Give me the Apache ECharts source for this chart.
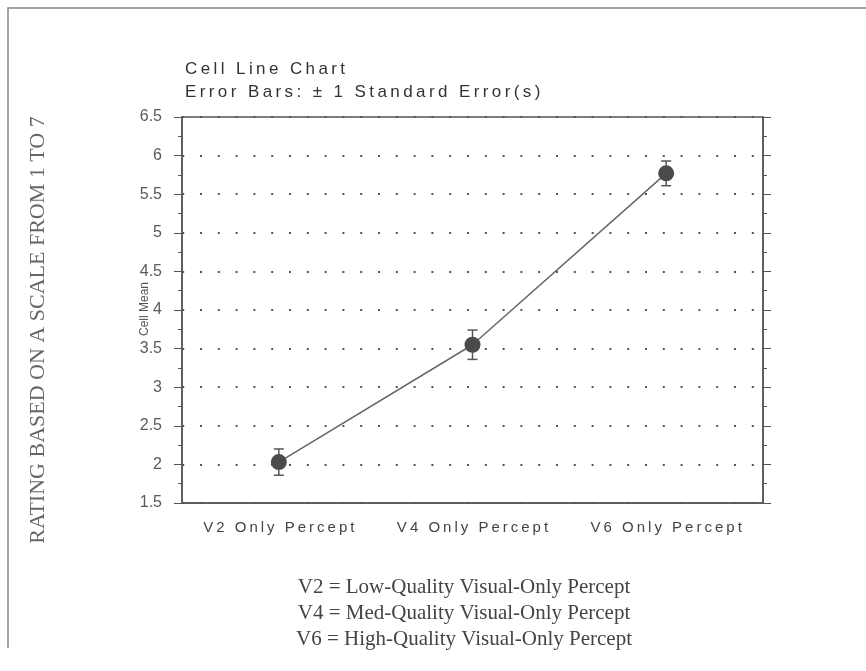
<!DOCTYPE html>
<html>
<head>
<meta charset="utf-8">
<script src="https://cdn.jsdelivr.net/npm/echarts@6/dist/echarts.min.js"></script>
<style>
  html, body { margin: 0; padding: 0; background: #fff; }
  #chart { width: 866px; height: 671px; }
</style>
</head>
<body>
<div id="chart"></div>
<script>
// cell means and standard errors
var categories = ['V2 Only Percept', 'V4 Only Percept', 'V6 Only Percept'];
var cellMeans = [2.03, 3.55, 5.77];
var stdErrors = [0.17, 0.19, 0.16];
var notes = [
  'V2 = Low-Quality Visual-Only Percept',
  'V4 = Med-Quality Visual-Only Percept',
  'V6 = High-Quality Visual-Only Percept'
];

// the original uses wide letter spacing, fake it with thin spaces
function spaced(s) {
  return String(s).split('').join('\u2009');
}

var errData = cellMeans.map(function (m, i) {
  return [i, m - stdErrors[i], m + stdErrors[i]];
});

var chart = echarts.init(document.getElementById('chart'));

var axisGray = '#555';
var sans = 'Arial, "Liberation Sans", sans-serif';
var serif = '"Liberation Serif", "DejaVu Serif", serif';

chart.setOption({
  backgroundColor: '#fff',
  animation: false,
  grid: {
    left: 182, right: 103, top: 117, bottom: 168,
    show: true, borderColor: axisGray, borderWidth: 1.5, backgroundColor: 'transparent'
  },
  xAxis: {
    type: 'category',
    data: categories,
    boundaryGap: true,
    axisLine: { lineStyle: { color: axisGray, width: 1.5 } },
    axisTick: { alignWithLabel: true, length: 4, lineStyle: { color: axisGray } },
    axisLabel: {
      interval: 0, hideOverlap: false,
      margin: 17, color: '#444', fontSize: 15, fontFamily: sans,
      formatter: spaced
    },
    splitLine: { show: false }
  },
  yAxis: [{
    type: 'value',
    min: 1.5, max: 6.5, interval: 0.5,
    axisLine: { show: true, lineStyle: { color: axisGray, width: 1.5 } },
    axisTick: { show: true, length: 8, lineStyle: { color: axisGray } },
    minorTick: { show: true, splitNumber: 2, length: 4, lineStyle: { color: axisGray } },
    axisLabel: { margin: 20, color: '#5a5a5a', fontSize: 16, fontFamily: sans },
    splitLine: { show: true, lineStyle: { color: '#555', width: 2, type: [2, 15.8], dashOffset: -18 } }
  }, {
    type: 'value',
    position: 'right',
    min: 1.5, max: 6.5, interval: 0.5,
    axisLine: { show: true, lineStyle: { color: axisGray, width: 1.5 } },
    axisTick: { show: true, length: 8, lineStyle: { color: axisGray } },
    minorTick: { show: true, splitNumber: 2, length: 4, lineStyle: { color: axisGray } },
    axisLabel: { show: false },
    splitLine: { show: false }
  }],
  graphic: [
    {
      type: 'polyline',
      shape: { points: [[8, 648], [8, 8], [866, 8]] },
      style: { stroke: '#888', lineWidth: 1.5, fill: null }
    },
    {
      type: 'text', x: 185, y: 69,
      style: { text: spaced('Cell Line Chart'), fill: '#333', font: '17px ' + sans, verticalAlign: 'middle' }
    },
    {
      type: 'text', x: 185, y: 92,
      style: { text: spaced('Error Bars: ± 1 Standard Error(s)'), fill: '#333', font: '17px ' + sans, verticalAlign: 'middle' }
    },
    {
      type: 'text', x: 145, y: 309, rotation: Math.PI / 2,
      style: { text: 'Cell Mean', fill: '#555', font: '12px ' + sans, align: 'center', verticalAlign: 'middle' }
    },
    {
      type: 'text', x: 38, y: 330, rotation: Math.PI / 2,
      style: {
        text: 'RATING BASED ON A SCALE FROM 1 TO 7', fill: '#666',
        font: '22px ' + serif, align: 'center', verticalAlign: 'middle'
      }
    },
    {
      type: 'text', x: 464, y: 587,
      style: { text: notes[0], fill: '#444', font: '21px ' + serif, align: 'center', verticalAlign: 'middle' }
    },
    {
      type: 'text', x: 464, y: 613,
      style: { text: notes[1], fill: '#444', font: '21px ' + serif, align: 'center', verticalAlign: 'middle' }
    },
    {
      type: 'text', x: 464, y: 639,
      style: { text: notes[2], fill: '#444', font: '21px ' + serif, align: 'center', verticalAlign: 'middle' }
    }
  ],
  series: [
    {
      type: 'custom',
      data: errData,
      z: 2,
      renderItem: function (params, api) {
        var lo = api.coord([api.value(0), api.value(1)]);
        var hi = api.coord([api.value(0), api.value(2)]);
        var cap = 5;
        var st = { stroke: '#555', lineWidth: 1.5 };
        return {
          type: 'group',
          children: [
            { type: 'line', shape: { x1: lo[0], y1: lo[1], x2: hi[0], y2: hi[1] }, style: st },
            { type: 'line', shape: { x1: lo[0] - cap, y1: lo[1], x2: lo[0] + cap, y2: lo[1] }, style: st },
            { type: 'line', shape: { x1: hi[0] - cap, y1: hi[1], x2: hi[0] + cap, y2: hi[1] }, style: st }
          ]
        };
      }
    },
    {
      type: 'line',
      data: cellMeans,
      z: 3,
      symbol: 'circle',
      symbolSize: 16,
      itemStyle: { color: '#4a4a4a' },
      lineStyle: { color: '#666', width: 1.5 }
    }
  ]
});
</script>
</body>
</html>
